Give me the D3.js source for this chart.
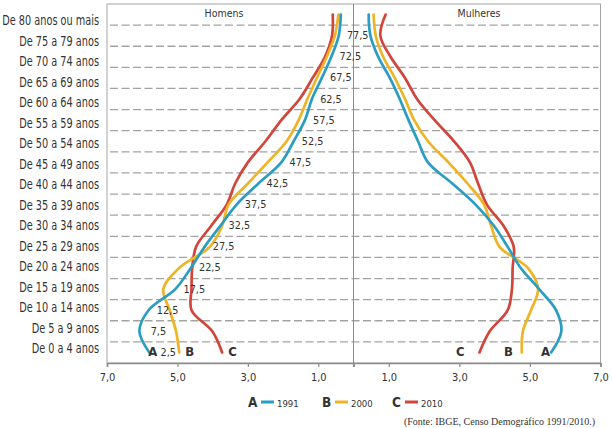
<!DOCTYPE html>
<html><head><meta charset="utf-8">
<script src="https://cdn.jsdelivr.net/npm/d3@7"></script>
<style>
html,body{margin:0;padding:0;background:#fff;}
svg{display:block;}
text{font-family:"Liberation Sans Narrow","DejaVu Sans Condensed","Liberation Sans",sans-serif;fill:#333;}
</style></head>
<body>
<svg id="c" width="612" height="428"></svg>
<script>
// ---- data (bottom row first: 0-4 ... 80+) ----
const ageGroups = ["De 0 a 4 anos","De 5 a 9 anos","De 10 a 14 anos","De 15 a 19 anos","De 20 a 24 anos",
  "De 25 a 29 anos","De 30 a 34 anos","De 35 a 39 anos","De 40 a 44 anos","De 45 a 49 anos","De 50 a 54 anos",
  "De 55 a 59 anos","De 60 a 64 anos","De 65 a 69 anos","De 70 a 74 anos","De 75 a 79 anos","De 80 anos ou mais"];
const midAges = ["2,5","7,5","12,5","17,5","22,5","27,5","32,5","37,5","42,5","47,5","52,5","57,5","62,5","67,5","72,5","77,5"];
const men1991   = [5.80,6.08,5.82,5.06,4.62,4.23,3.78,3.32,2.70,2.05,1.70,1.38,1.18,0.90,0.63,0.42,0.36];
const men2000   = [4.95,5.04,5.22,5.40,4.95,4.08,3.73,3.55,3.00,2.44,1.90,1.56,1.31,1.04,0.76,0.53,0.43];
const men2010   = [3.73,4.01,4.60,4.60,4.58,4.47,4.04,3.60,3.36,3.00,2.50,2.05,1.53,1.16,0.81,0.61,0.59];
const women1991 = [5.60,5.89,5.74,5.26,4.74,4.37,3.98,3.46,2.80,2.11,1.83,1.56,1.31,1.03,0.70,0.48,0.43];
const women2000 = [4.77,4.80,5.03,5.23,4.94,4.14,3.90,3.70,3.23,2.69,2.11,1.72,1.46,1.17,0.84,0.63,0.57];
const women2010 = [3.57,3.86,4.37,4.49,4.51,4.54,4.25,3.78,3.53,3.30,2.85,2.30,1.80,1.46,1.05,0.76,0.91];
const xTicks = [7,5,3,1];
const seriesNames = ["1991","2000","2010"];
const seriesLetters = ["A","B","C"];
const seriesColors = ["#2b9cc2","#eeb425","#d1453b"];

// ---- layout ----
const svg = d3.select("#c");
const pLeft = 107, pCenter = 353.5, pRight = 600.5, pTop = 4, pBottom = 363;
const xMen = d3.scaleLinear().domain([0,7]).range([pCenter,pLeft]);
const xWom = d3.scaleLinear().domain([0,7]).range([pCenter,pRight]);
const y = d3.scaleBand().domain(ageGroups).range([pBottom,pTop]);
const yc = a => y(a) + y.bandwidth()/2;
const yLab = d3.scalePoint().domain(ageGroups).range([349,21]);

// box
svg.append("rect").attr("x",pLeft).attr("y",pTop).attr("width",pRight-pLeft).attr("height",pBottom-pTop)
  .attr("fill","none").attr("stroke","#a6a6a6").attr("stroke-width",1);
// dashed row lines
svg.append("g").selectAll("line").data(ageGroups.slice(1)).join("line")
  .attr("x1",pLeft+3).attr("x2",pRight-2)
  .attr("y1",d=>y(d)+y.bandwidth()).attr("y2",d=>y(d)+y.bandwidth())
  .attr("stroke","#a3a3a3").attr("stroke-width",1.3).attr("stroke-dasharray","8,3.5");
// center line
svg.append("line").attr("x1",pCenter).attr("x2",pCenter).attr("y1",pTop).attr("y2",pBottom)
  .attr("stroke","#8c8c8c").attr("stroke-width",1);

// bottom axes
const fmt = d=>d3.format(".1f")(d).replace(".",",");
const axM = d3.axisBottom(xMen).tickValues(xTicks).tickSize(4).tickFormat(fmt);
const axW = d3.axisBottom(xWom).tickValues(xTicks).tickSize(4).tickFormat(fmt);
[axM,axW].forEach(ax=>{
  const g = svg.append("g").attr("transform",`translate(0,${pBottom})`).call(ax);
  g.select(".domain").attr("stroke","#8c8c8c").attr("stroke-width",1.6);
  g.selectAll(".tick line").attr("stroke","#8c8c8c").attr("stroke-width",1.2);
  g.selectAll(".tick text").attr("font-size",11).attr("dy",0).attr("y",18)
    .style("font-family",'"Liberation Sans Narrow","DejaVu Sans Condensed",sans-serif').attr("fill","#333");
});

// category labels (horizontally condensed)
svg.append("g").attr("transform","translate(99,0) scale(0.82,1)")
  .selectAll("text").data(ageGroups).join("text")
  .attr("x",0).attr("y",d=>yLab(d)+4.5).attr("text-anchor","end").attr("font-size",13.2).text(d=>d);

// panel titles
svg.append("text").attr("x",224).attr("y",17).attr("text-anchor","middle").attr("font-size",10.5).text("Homens");
svg.append("text").attr("x",479).attr("y",17).attr("text-anchor","middle").attr("font-size",10.5).text("Mulheres");

// lines
const lineM = d3.line().x(d=>xMen(d[1])).y(d=>yc(d[0])).curve(d3.curveCatmullRom.alpha(0.5));
const lineW = d3.line().x(d=>xWom(d[1])).y(d=>yc(d[0])).curve(d3.curveCatmullRom.alpha(0.5));
const menSeries = [men1991,men2000,men2010];
const womSeries = [women1991,women2000,women2010];
[2,1,0].forEach(k=>{
  svg.append("path").attr("d",lineM(ageGroups.map((a,i)=>[a,menSeries[k][i]])))
    .attr("fill","none").attr("stroke",seriesColors[k]).attr("stroke-width",2.7).attr("stroke-linecap","round");
  svg.append("path").attr("d",lineW(ageGroups.map((a,i)=>[a,womSeries[k][i]])))
    .attr("fill","none").attr("stroke",seriesColors[k]).attr("stroke-width",2.7).attr("stroke-linecap","round");
});

// mid-age labels next to 1991 men curve
svg.append("g").selectAll("text").data(midAges).join("text")
  .attr("x",(d,i)=>xMen(men1991[i])+19).attr("y",(d,i)=>yc(ageGroups[i])+3.5)
  .attr("text-anchor","middle").attr("font-size",10.8).attr("fill","#333").text(d=>d);

// end letters
seriesLetters.forEach((L,k)=>{
  svg.append("text").attr("x",xMen(menSeries[k][0])+(k===0?-1:6)).attr("y",356)
    .attr("font-size",13).attr("font-weight","bold").attr("fill","#111").text(L);
  svg.append("text").attr("x",xWom(womSeries[k][0])-[1,9,15][k]).attr("y",356).attr("text-anchor","end")
    .attr("font-size",13).attr("font-weight","bold").attr("fill","#111").text(L);
});

// legend
const legX = [248,322,392];
seriesNames.forEach((n,k)=>{
  const g = svg.append("g").attr("transform",`translate(${legX[k]},407)`);
  g.append("text").attr("x",0).attr("y",0).attr("font-size",13.5).attr("font-weight","bold").attr("fill","#111").text(seriesLetters[k]);
  g.append("line").attr("x1",13).attr("x2",26).attr("y1",-5).attr("y2",-5).attr("stroke",seriesColors[k]).attr("stroke-width",3);
  g.append("text").attr("x",29).attr("y",0).attr("font-size",9.5).attr("fill","#333").text(n);
});

// source
svg.append("text").attr("x",595).attr("y",425).attr("text-anchor","end")
  .style("font-family",'"Liberation Serif","Times New Roman",serif').attr("font-size",10).attr("fill","#111")
  .text("(Fonte: IBGE, Censo Demográfico 1991/2010.)");
</script>
</body></html>
